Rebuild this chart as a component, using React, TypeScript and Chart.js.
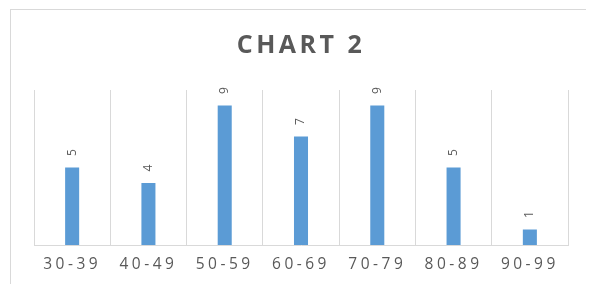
import React, { useEffect, useRef } from "react";
import { Chart, registerables } from "chart.js";

Chart.register(...registerables);

const categories: string[] = ["30-39", "40-49", "50-59", "60-69", "70-79", "80-89", "90-99"];
const counts: number[] = [5, 4, 9, 7, 9, 5, 1];
const chartTitle = "CHART 2";

const FONT = "'Open Sans', 'Noto Sans', sans-serif";
const GRAY = "#595959";
const GRID = "#d9d9d9";

const spacingPlugin = {
  id: "spacingAndLabels",
  beforeDraw(chart: any) {
    chart.ctx.letterSpacing = "3.5px";
  },
  afterDatasetsDraw(chart: any) {
    const ctx = chart.ctx;
    ctx.save();
    ctx.letterSpacing = "0px";
    const meta = chart.getDatasetMeta(0);
    const data = chart.data.datasets[0].data as number[];
    meta.data.forEach((bar: any, i: number) => {
      ctx.save();
      ctx.translate(bar.x, bar.y - 15);
      ctx.rotate(-Math.PI / 2);
      ctx.font = `12px ${FONT}`;
      ctx.fillStyle = GRAY;
      ctx.textAlign = "center";
      ctx.textBaseline = "middle";
      ctx.fillText(String(data[i]), 0, 0);
      ctx.restore();
    });
    ctx.restore();
    ctx.letterSpacing = "3.5px";
  },
  afterDraw(chart: any) {
    chart.ctx.letterSpacing = "0px";
  },
};

export default function App() {
  const ref = useRef<HTMLCanvasElement | null>(null);
  useEffect(() => {
    if (!ref.current) return;
    const chart = new Chart(ref.current, {
      type: "bar",
      data: {
        labels: categories,
        datasets: [
          {
            data: counts,
            backgroundColor: "#5b9bd5",
            borderWidth: 0,
            categoryPercentage: 1,
            barPercentage: 0.184,
          },
        ],
      },
      options: {
        animation: false,
        responsive: false,
        layout: { padding: { left: 23, right: 22, top: 0, bottom: 16 } },
        plugins: {
          legend: { display: false },
          tooltip: { enabled: false },
          title: {
            display: true,
            text: chartTitle,
            color: GRAY,
            font: { family: FONT, size: 25, weight: "bold" },
            padding: { top: 21, bottom: 29 },
          },
        },
        scales: {
          x: {
            z: 1,
            grid: { color: GRID, lineWidth: 1, offset: true, drawTicks: false },
            border: { display: true, color: GRID, width: 1 },
            ticks: { color: GRAY, font: { family: FONT, size: 15.5 }, padding: 10.2, maxRotation: 0 },
          },
          y: {
            display: false,
            min: 0,
            max: 10,
          },
        },
      },
      plugins: [spacingPlugin],
    });
    return () => chart.destroy();
  }, []);

  return (
    <div style={{ height: 276, overflow: "hidden" }}>
      <div
        style={{
          marginLeft: 2,
          marginTop: 1,
          width: 579,
          height: 290,
          border: `1px solid ${GRID}`,
          background: "#fff",
        }}
      >
        <canvas ref={ref} width={579} height={290} style={{ display: "block" }} />
      </div>
    </div>
  );
}
